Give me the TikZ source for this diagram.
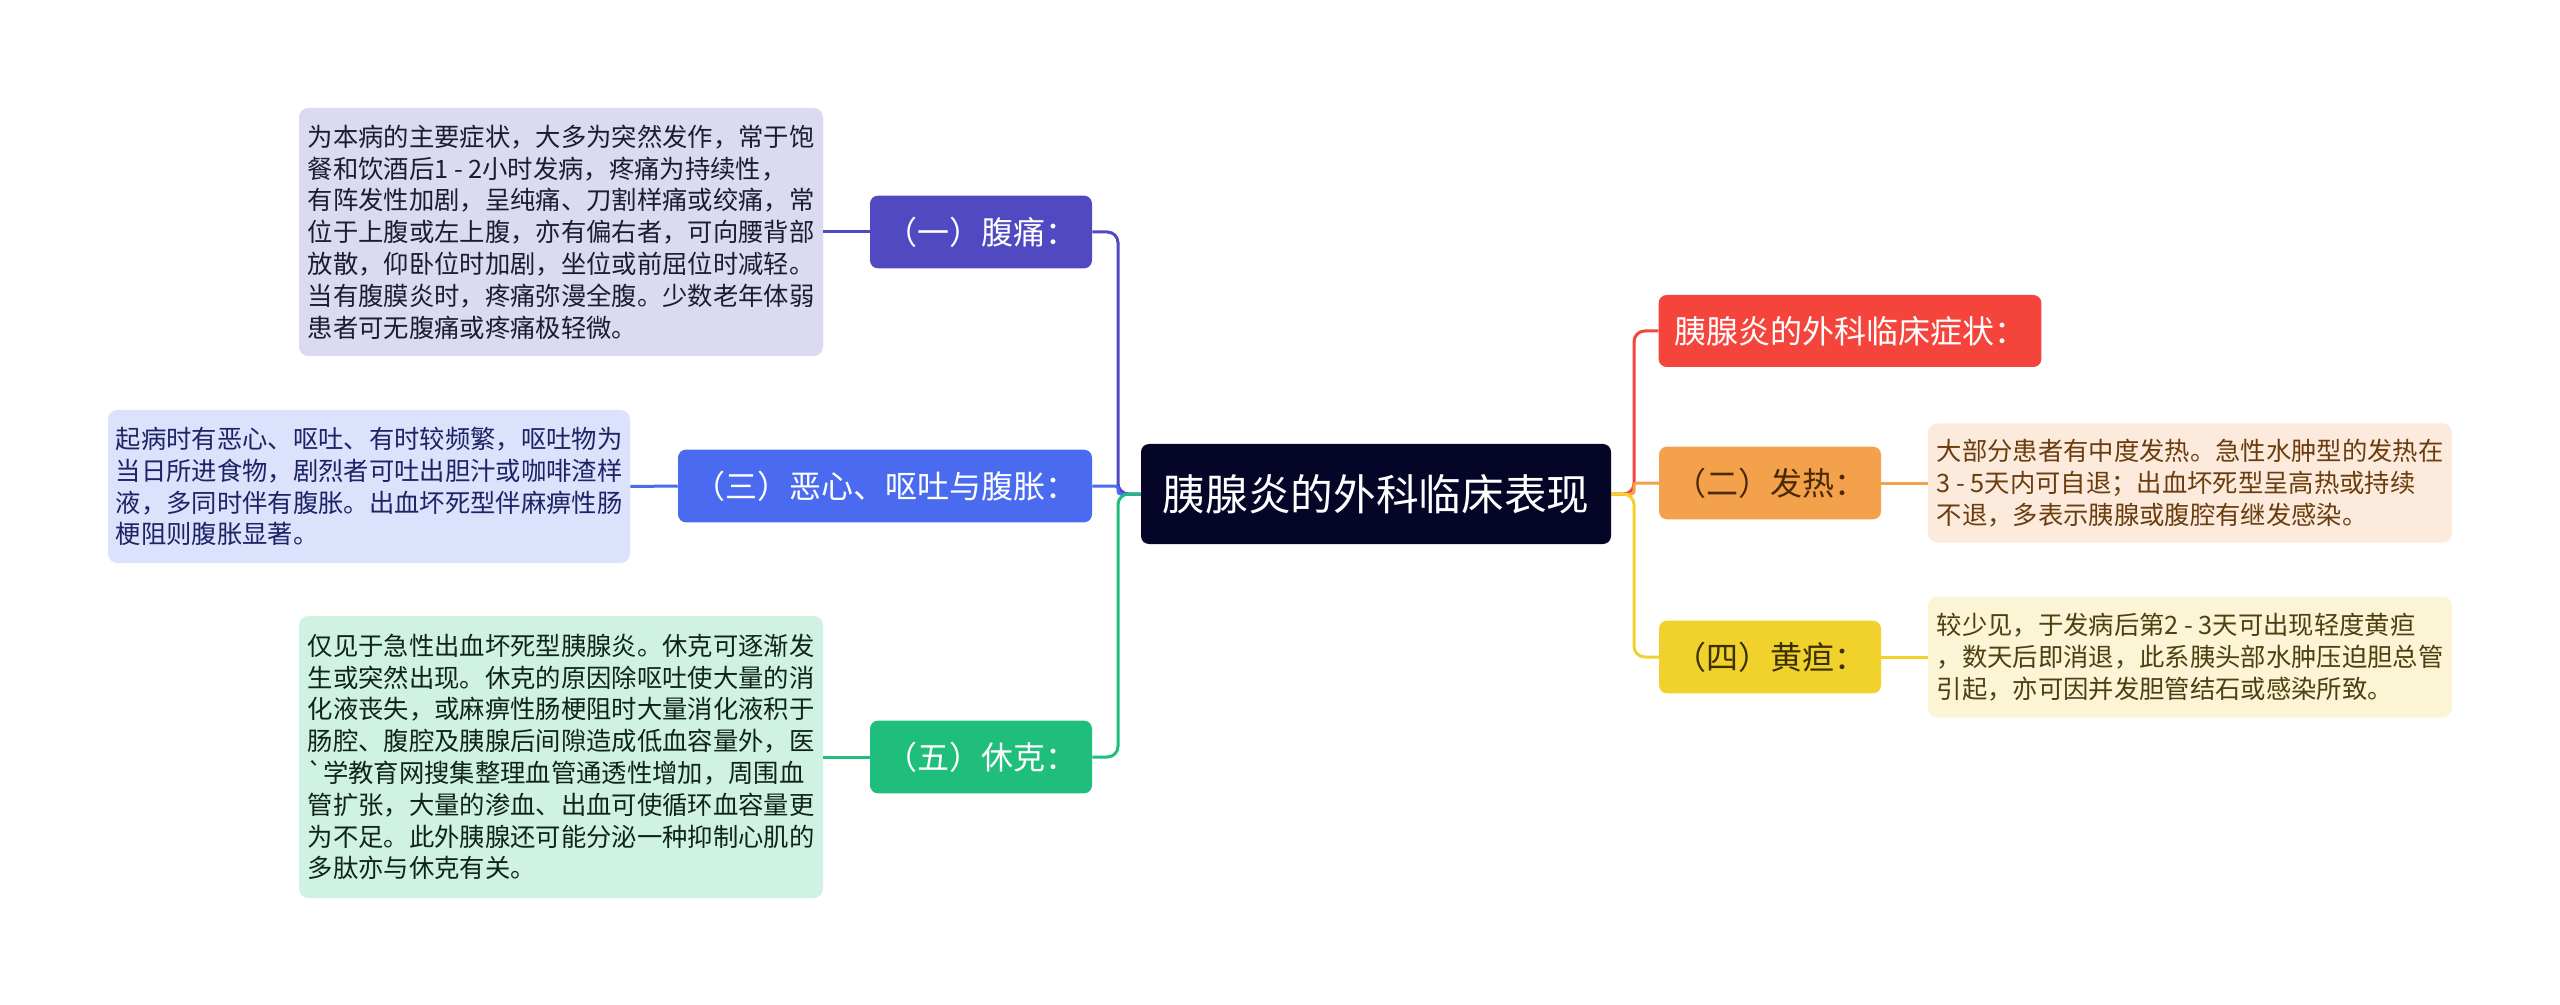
\documentclass[tikz,border=0pt]{standalone}
\usepackage{fontspec}
\setmainfont{Noto Sans CJK SC}
\newfontfamily\cjk{Noto Sans CJK SC}
\definecolor{rootc}{HTML}{050528}
\definecolor{c1}{HTML}{5049C1}
\definecolor{c3}{HTML}{4A6BEF}
\definecolor{c5}{HTML}{20BE7C}
\definecolor{cr}{HTML}{F5443C}
\definecolor{c2}{HTML}{F3A14B}
\definecolor{c4}{HTML}{F1D12B}
\definecolor{f1}{HTML}{DCDAF3}
\definecolor{f3}{HTML}{DCE2FB}
\definecolor{f5}{HTML}{CFF2E3}
\definecolor{f2}{HTML}{FCEBDC}
\definecolor{f4}{HTML}{FBF5D6}
\definecolor{t1}{HTML}{1C1C30}
\definecolor{t3}{HTML}{1C2466}
\definecolor{t5}{HTML}{10241C}
\definecolor{t2}{HTML}{6B3D0E}
\definecolor{t4}{HTML}{4D4010}
\definecolor{tb2}{HTML}{4A2A05}
\definecolor{tb4}{HTML}{3A3000}
\tikzset{
  rootbox/.style={fill=rootc, rounded corners=6pt, text=white, inner sep=0pt,
    minimum width=352.5pt, minimum height=75pt, font=\cjk\fontsize{32}{38}\selectfont},
  branchbox/.style={rounded corners=6pt, inner sep=0pt, minimum height=54.5pt,
    font=\cjk\fontsize{24}{28}\selectfont},
  leafbox/.style={rounded corners=7pt, inner sep=0pt, align=left, minimum width=393pt,
    font=\cjk\fontsize{19}{23.85}\selectfont},
  conn/.style={line width=2.25pt}
}
\begin{document}
\begin{tikzpicture}[x=0.75pt, y=-0.75pt]
\fill[white] (0,0) rectangle (2560,1005);
\useasboundingbox (0,0) rectangle (2560,1005);

% root
\node[rootbox] (root) at (1376,494) {胰腺炎的外科临床表现};

% left branches
\node[branchbox, fill=c1, text=white, minimum width=166.5pt] (b1) at (981,232) {（一）腹痛：};
\node[branchbox, fill=c3, text=white, minimum width=310.5pt] (b3) at (885,486) {（三）恶心、呕吐与腹胀：};
\node[branchbox, fill=c5, text=white, minimum width=166.5pt] (b5) at (981,757) {（五）休克：};

% right branches
\node[branchbox, fill=cr, text=white, minimum width=287pt, minimum height=54pt] (br) at (1850,331) {胰腺炎的外科临床症状：};
\node[branchbox, fill=c2, text=tb2, minimum width=166.5pt] (b2) at (1770,483) {（二）发热：};
\node[branchbox, fill=c4, text=tb4, minimum width=166.5pt] (b4) at (1770,657) {（四）黄疸：};

% leaves
\node[leafbox, fill=f1, text=t1, minimum height=186pt] (l1) at (561,232) {为本病的主要症状，大多为突然发作，常于饱\\餐和饮酒后1 - 2小时发病，疼痛为持续性，\\有阵发性加剧，呈纯痛、刀割样痛或绞痛，常\\位于上腹或左上腹，亦有偏右者，可向腰背部\\放散，仰卧位时加剧，坐位或前屈位时减轻。\\当有腹膜炎时，疼痛弥漫全腹。少数老年体弱\\患者可无腹痛或疼痛极轻微。};
\node[leafbox, fill=f3, text=t3, minimum width=391.5pt, minimum height=114.75pt] (l3) at (369,486.5) {起病时有恶心、呕吐、有时较频繁，呕吐物为\\当日所进食物，剧烈者可吐出胆汁或咖啡渣样\\液，多同时伴有腹胀。出血坏死型伴麻痹性肠\\梗阻则腹胀显著。};
\node[leafbox, fill=f5, text=t5, minimum height=211.5pt] (l5) at (561,757) {仅见于急性出血坏死型胰腺炎。休克可逐渐发\\生或突然出现。休克的原因除呕吐使大量的消\\化液丧失，或麻痹性肠梗阻时大量消化液积于\\肠腔、腹腔及胰腺后间隙造成低血容量外，医\\`学教育网搜集整理血管通透性增加，周围血\\管扩张，大量的渗血、出血可使循环血容量更\\为不足。此外胰腺还可能分泌一种抑制心肌的\\多肽亦与休克有关。};
\node[leafbox, fill=f2, text=t2, minimum height=89.25pt] (l2) at (2190,483) {大部分患者有中度发热。急性水肿型的发热在\\3 - 5天内可自退；出血坏死型呈高热或持续\\不退，多表示胰腺或腹腔有继发感染。};
\node[leafbox, fill=f4, text=t4, minimum height=90.75pt] (l4) at (2190,657) {较少见，于发病后第2 - 3天可出现轻度黄疸\\，数天后即消退，此系胰头部水肿压迫胆总管\\引起，亦可因并发胆管结石或感染所致。};

% trunk coordinates
\coordinate (tl) at (1118,494);
\coordinate (tr) at (1634,494);

% left connectors
\draw[conn, c1, rounded corners=8pt] (root.west) -- (tl) |- (b1.east);
\draw[conn, c3, rounded corners=2pt] (root.west) -- (tl) |- (b3.east);
\draw[conn, c5, rounded corners=8pt] (root.west) -- (tl) |- (b5.east);
% right connectors
\draw[conn, cr, rounded corners=8pt] (root.east) -- (tr) |- (br.west);
\draw[conn, c2, rounded corners=2pt] (root.east) -- (tr) |- (b2.west);
\draw[conn, c4, rounded corners=8pt] (root.east) -- (tr) |- (b4.west);

% leaf connectors
\draw[conn, c1] (b1.west) -- (l1.east);
\draw[conn, c3] (b3.west) -- (l3.east);
\draw[conn, c5] (b5.west) -- (l5.east);
\draw[conn, c2] (b2.east) -- (l2.west);
\draw[conn, c4] (b4.east) -- (l4.west);
\end{tikzpicture}
\end{document}
